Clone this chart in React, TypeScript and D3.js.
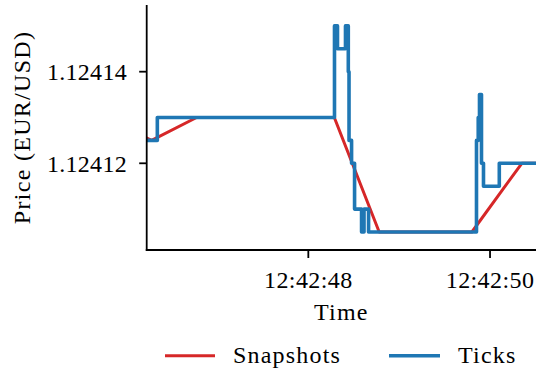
import React from "react";
import * as d3 from "d3";

// seconds after 12:42:00
const snapTimes = [45.77, 46.275, 46.77, 47.28, 47.78, 48.286, 48.78, 49.28, 49.80, 50.35, 50.85];
const snapPrices = [1.12413, 1.124125, 1.12413, 1.12413, 1.12413, 1.12413, 1.124105, 1.124105, 1.124105, 1.12412, 1.12412];

const tickTimes = [45.9, 46.338, 48.288, 48.321, 48.409, 48.44, 48.448, 48.476, 48.509, 48.586, 48.613, 48.663, 49.851, 49.87, 49.884, 49.906, 49.928, 50.102, 50.9];
const tickPrices = [1.124125, 1.12413, 1.12415, 1.124145, 1.12415, 1.12414, 1.124125, 1.12412, 1.12411, 1.124105, 1.12411, 1.124105, 1.124125, 1.12413, 1.124135, 1.12412, 1.124115, 1.12412, 1.12412];

const yTicks = [1.12412, 1.12414];
const xTickSecs = [48, 50];
const legendLabels = ["Snapshots", "Ticks"];
const colors = ["#d62728", "#1f77b4"];

const base = new Date(2020, 0, 1, 12, 42, 0).getTime();
const toDate = (s: number) => new Date(base + s * 1000);

const W = 536, H = 372;
const left = 146.7, right = 536, top = 5, bottom = 250;
const FONT = "'Liberation Serif', serif";

export default function App() {
  const x = d3.scaleTime().domain([toDate(46.2213), toDate(50.5063)]).range([left, right]);
  const y = d3.scaleLinear().domain([1.12410107, 1.12415456]).range([bottom, top]);

  const snaps = snapTimes.map((t, i) => ({ t: toDate(t), p: snapPrices[i] }));
  const ticks = tickTimes.map((t, i) => ({ t: toDate(t), p: tickPrices[i] }));

  const lineLin = d3.line<{ t: Date; p: number }>().x(d => x(d.t)).y(d => y(d.p));
  const lineStep = d3.line<{ t: Date; p: number }>().x(d => x(d.t)).y(d => y(d.p)).curve(d3.curveStepAfter);
  const fmt = d3.timeFormat("%H:%M:%S");

  return (
    <svg width={W} height={H} style={{ position: "absolute", left: 0, top: 0, background: "#fff" }} fontFamily={FONT}>
      <defs>
        <clipPath id="plot">
          <rect x={left} y={top} width={right - left} height={bottom - top} />
        </clipPath>
      </defs>
      <g clipPath="url(#plot)">
        <path d={lineLin(snaps) || ""} fill="none" stroke={colors[0]} strokeWidth={3} strokeLinejoin="round" />
        <path d={lineStep(ticks) || ""} fill="none" stroke={colors[1]} strokeWidth={3.6} strokeLinejoin="round" />
      </g>
      {/* spines */}
      <line x1={left} x2={left} y1={top} y2={bottom + 0.9} stroke="#000" strokeWidth={1.8} />
      <line x1={left - 0.9} x2={right} y1={bottom} y2={bottom} stroke="#000" strokeWidth={1.8} />
      {/* y ticks */}
      {yTicks.map(v => (
        <g key={v}>
          <line x1={left - 7.5} x2={left} y1={y(v)} y2={y(v)} stroke="#000" strokeWidth={1.8} />
          <text x={127} y={y(v)} dy="0.35em" textAnchor="end" fontSize={24} letterSpacing={0.3}>{v.toFixed(5)}</text>
        </g>
      ))}
      {/* x ticks */}
      {xTickSecs.map(s => (
        <g key={s}>
          <line x1={x(toDate(s))} x2={x(toDate(s))} y1={bottom} y2={bottom + 8} stroke="#000" strokeWidth={1.8} />
          <text x={x(toDate(s))} y={288} textAnchor="middle" fontSize={24} letterSpacing={0.4}>{fmt(toDate(s))}</text>
        </g>
      ))}
      <text x={(left + right) / 2} y={320} textAnchor="middle" fontSize={24} letterSpacing={1.2}>Time</text>
      <text transform={`translate(30,${(top + bottom) / 2}) rotate(-90)`} textAnchor="middle" fontSize={24} letterSpacing={1.3}>Price (EUR/USD)</text>
      {/* legend */}
      <line x1={165} x2={215} y1={355.7} y2={355.7} stroke={colors[0]} strokeWidth={3} />
      <text x={233} y={363} fontSize={24} letterSpacing={1.2}>{legendLabels[0]}</text>
      <line x1={389} x2={440} y1={355.7} y2={355.7} stroke={colors[1]} strokeWidth={3.6} />
      <text x={458} y={363} fontSize={24} letterSpacing={1.2}>{legendLabels[1]}</text>
    </svg>
  );
}
